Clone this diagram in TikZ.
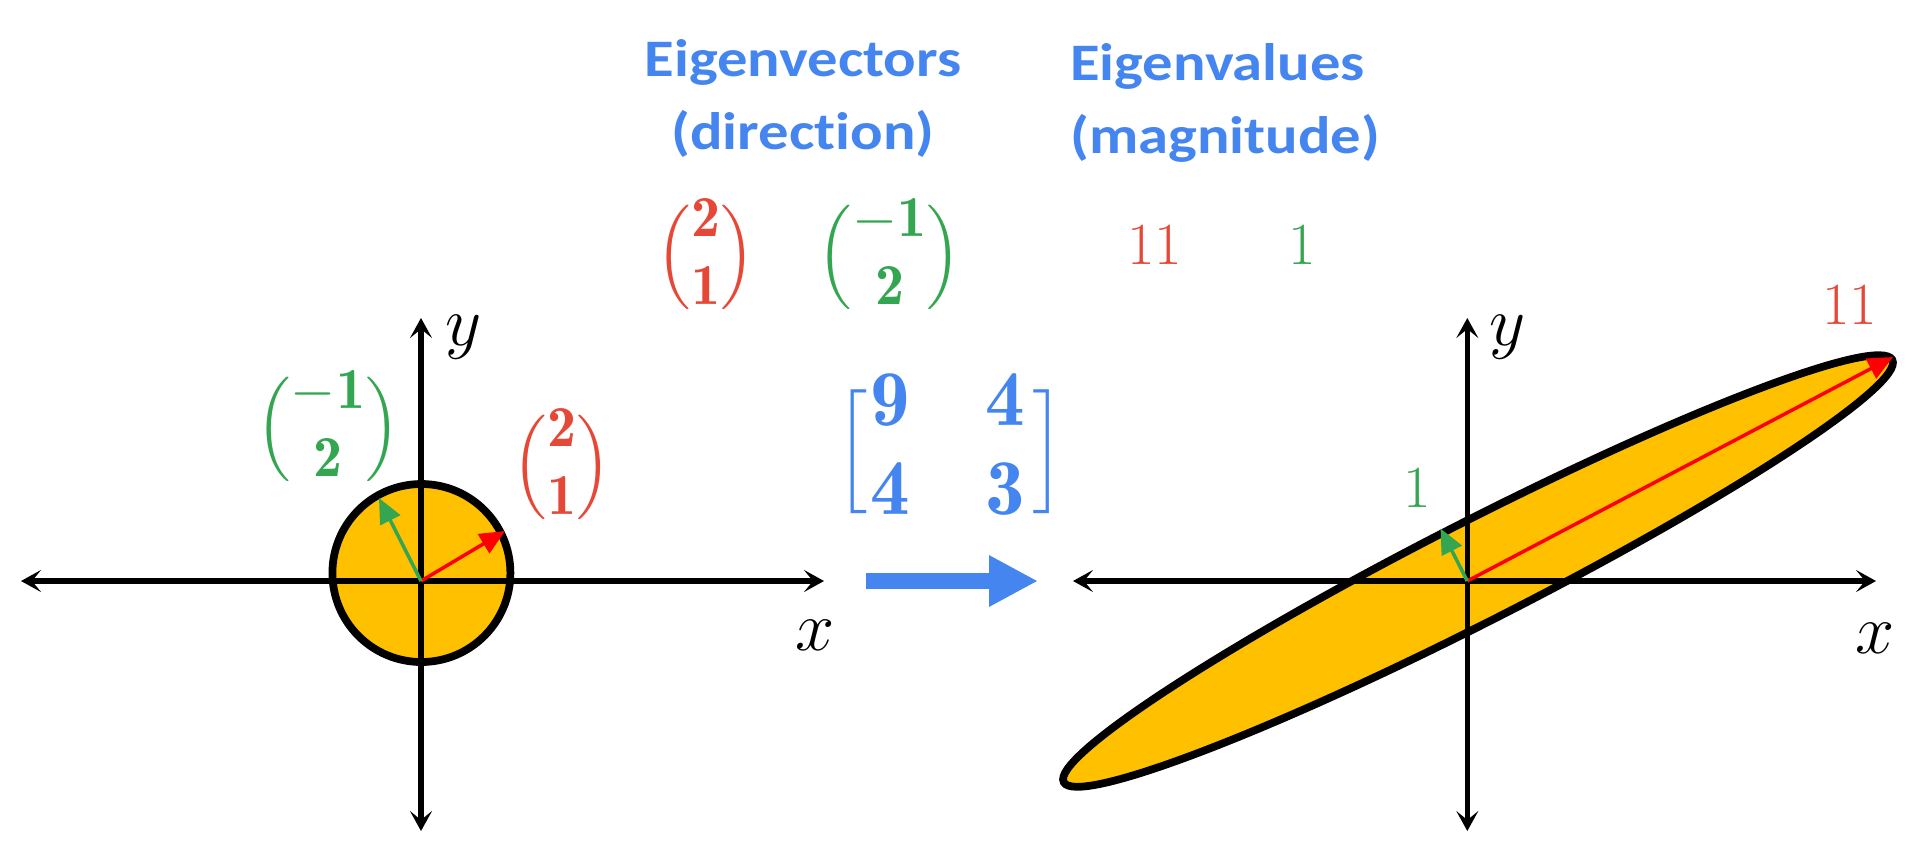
\RequirePackage{fix-cm}
\documentclass[tikz,border=0pt]{standalone}
\usepackage{amsmath, amssymb}
\usepackage{fontspec}
\usepackage{tikz}
\usetikzlibrary{arrows.meta}
\newfontfamily\headfont[Ligatures=NoCommon, FakeStretch=1.15]{Carlito}
\definecolor{evblue}{RGB}{68,133,240}
\definecolor{evred}{RGB}{230,72,56}
\definecolor{evgreen}{RGB}{52,165,80}
\definecolor{fillgold}{RGB}{255,192,0}

\begin{document}
\begin{tikzpicture}[axisline/.style={line width=1.5pt, arrows={Stealth[length=2mm,width=2.2mm,inset=0.9mm]-Stealth[length=2mm,width=2.2mm,inset=0.9mm]}},
        blob/.style={draw=black, line width=2.2pt, fill=fillgold},
        vec/.style={line width=1pt, -{Triangle[length=2.5mm,width=2.2mm]}},
        head/.style={text=evblue, font=\headfont\bfseries\fontsize{15}{18}\selectfont, inner sep=0pt},
        lbl/.style={inner sep=0pt, font=\fontsize{20}{24}\selectfont},
        colvec/.style={inner sep=0pt, font=\fontsize{16.5}{19.1}\selectfont},
        evnum/.style={inner sep=0pt, font=\fontsize{17}{20}\selectfont},
        brk/.style={inner sep=0pt, text=evblue, font=\fontsize{19.6}{23}\selectfont}]
    \useasboundingbox (0,0) rectangle (19.2,8.53);

    % headings
    \node[head, anchor=base, text depth=0pt] (evec) at (8.03,7.77) {Eigenvectors};
    \node[head, anchor=base] (evecsub) at (8.03,7.04) {(direction)};
    \node[head, anchor=base west, text depth=0pt] (eval) at (10.695,7.73) {Eigenvalues};
    \node[head, anchor=base west] (evalsub) at (10.695,7.00) {(magnitude)};
    \node[colvec, text=evred] (vred) at (7.06,5.96) {$\Big(\begin{matrix}\mathbf{2}\\ \mathbf{1}\end{matrix}\Big)$};
    \node[colvec, text=evgreen] (vgreen) at (8.895,5.96) {$\Big(\begin{matrix}\mathbf{-1}\\ \mathbf{2}\end{matrix}\Big)$};
    \node[evnum, text=evred, anchor=base] (lred) at (11.545,5.89) {$11$};
    \node[evnum, text=evgreen, anchor=base] (lgreen) at (13.026,5.89) {$1$};

    % before
    \coordinate (O1) at (4.21,2.72);
    \coordinate (C1) at (4.214,2.80);
    \fill[fillgold] (C1) circle (0.89);
    \draw[axisline] (0.21,2.72) coordinate (xl1) -- (8.24,2.72) coordinate (xr1);
    \draw[axisline] (4.21,0.22) coordinate (yb1) -- (4.21,5.35) coordinate (yt1);
    \draw[draw=black, line width=2.2pt] (C1) circle (0.89);
    \coordinate (r1) at (5.05,3.22);
    \coordinate (g1) at (3.79,3.55);
    \draw[vec, red] (O1) -- (r1);
    \draw[vec, evgreen] (O1) -- (g1);
    \node[lbl] (ylab1) at (4.64,5.16) {$y$};
    \node[lbl] (xlab1) at (8.15,2.18) {$x$};
    \node[colvec, text=evred] (vred1) at (5.62,3.86) {$\Big(\begin{matrix}\mathbf{2}\\ \mathbf{1}\end{matrix}\Big)$};
    \node[colvec, text=evgreen] (vgreen1) at (3.28,4.24) {$\Big(\begin{matrix}\mathbf{-1}\\ \mathbf{2}\end{matrix}\Big)$};

    % the matrix
    \node[inner sep=0pt, text=evblue, font=\fontsize{22.5}{25.3}\selectfont] (mat) at (9.48,4.01)
        {$\setlength{\arraycolsep}{10.7pt}\begin{matrix}\mathbf{9} & \mathbf{4}\\ \mathbf{4} & \mathbf{3}\end{matrix}$};
    \node[brk] (lbr) at (8.52,4.01) {$\Big[$};
    \node[brk] (rbr) at (10.49,4.01) {$\Big]$};
    \coordinate (t0) at (8.66,2.72);
    \coordinate (t1) at (10.38,2.72);
    \draw[evblue, line width=4.5pt, -{Triangle[length=4.9mm,width=4.8mm]}] (t0) -- (t1);

    % after
    \coordinate (O2) at (14.673,2.72);
    \coordinate (C2) at (14.78,2.82);
    \fill[fillgold, rotate around={27:(C2)}] (C2) ellipse (4.65 and 0.5);
    \draw[axisline] (10.73,2.72) coordinate (xl2) -- (18.76,2.72) coordinate (xr2);
    \draw[axisline] (14.673,0.22) coordinate (yb2) -- (14.673,5.35) coordinate (yt2);
    \draw[line width=2.2pt, rotate around={27:(C2)}] (C2) ellipse (4.65 and 0.5);
    \coordinate (r2) at (18.93,4.96);
    \coordinate (g2) at (14.405,3.245);
    \draw[vec, red] (O2) -- (r2);
    \draw[vec, evgreen] (O2) -- (g2);
    \node[lbl] (ylab2) at (15.075,5.16) {$y$};
    \node[lbl] (xlab2) at (18.75,2.15) {$x$};
    \node[evnum, text=evred] (lred2) at (18.50,5.48) {$11$};
    \node[evnum, text=evgreen] (lgreen2) at (14.176,3.645) {$1$};
\end{tikzpicture}
\end{document}
